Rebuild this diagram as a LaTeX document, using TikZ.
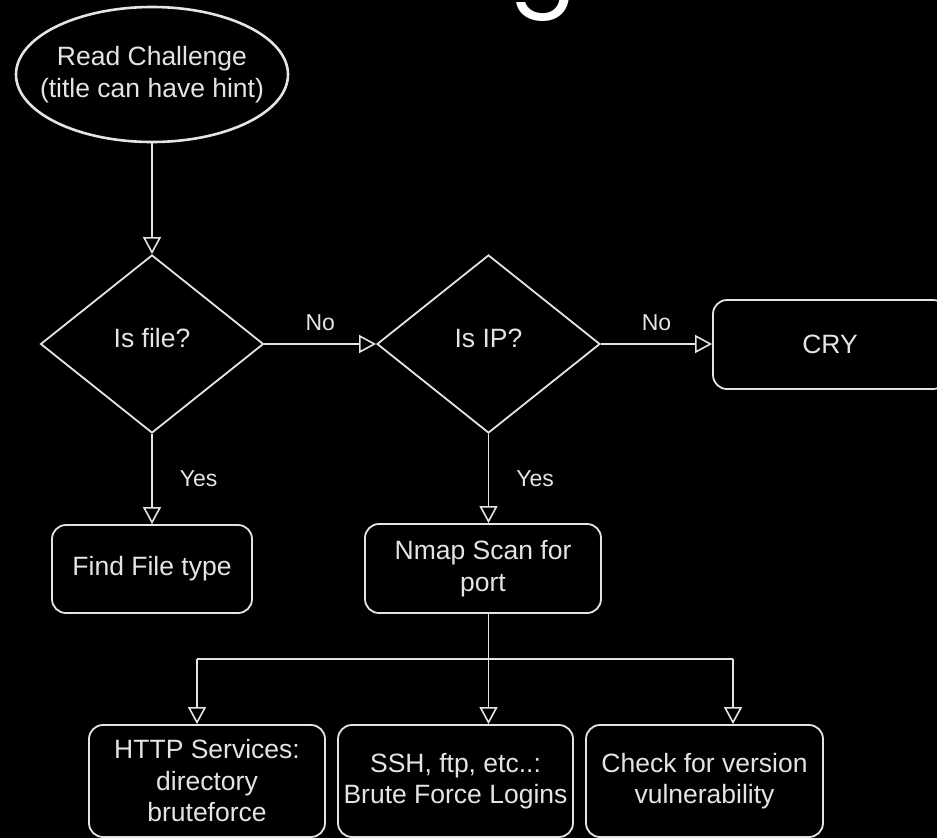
\documentclass[tikz,border=0pt]{standalone}
\usepackage{fontspec}
\setmainfont{Liberation Sans}
\newfontfamily\titlefont{Poppins}
\usetikzlibrary{shapes.geometric,arrows.meta}
\definecolor{fg}{RGB}{228,228,228}
\begin{document}
\begin{tikzpicture}[x=1pt,y=-1pt,
  every node/.style={text=fg, inner sep=0pt, align=center, font=\fontsize{26.5}{31.5}\selectfont},
  shp/.style={draw=fg, line width=1.8pt, fill=black},
  rbox/.style={shp, rectangle, rounded corners=14pt},
  dia/.style={shp, diamond, minimum width=223pt, minimum height=178pt},
  conn/.style={draw=fg, line width=1.6pt},
  arr/.style={conn, -{Triangle[open, length=17pt, width=18pt, line width=1.6pt]}},
  lbl/.style={font=\fontsize{23}{27}\selectfont}
]
\useasboundingbox (0,0) rectangle (937,838);
\fill[black] (0,0) rectangle (937,838);
\begin{scope}
\clip (0,0) rectangle (937,838);
\node[anchor=base, text=white, font=\titlefont\fontsize{100}{100}\selectfont] (ttl) at (543,-6) {g};

\node[shp, ellipse, line width=2.6pt, inner xsep=-30pt, minimum width=272pt, minimum height=135pt] (start) at (152,74.5) {Read Challenge\\(title can have hint)};
\node[dia, text depth=12pt] (file) at (152,344) {Is file?};
\node[dia, text depth=12pt] (ip) at (488.5,344) {Is IP?};
\node[rbox, minimum width=234pt, minimum height=89pt] (cry) at (830,344.5) {CRY};
\node[rbox, minimum width=200pt, minimum height=88pt] (find) at (152,569) {Find File type};
\node[rbox, minimum width=236pt, minimum height=89pt] (nmap) at (483,568.5) {Nmap Scan for\\port};
\node[rbox, minimum width=236pt, minimum height=112pt] (http) at (207,781) {HTTP Services:\\directory\\bruteforce};
\node[rbox, minimum width=235pt, minimum height=112pt] (ssh) at (455.5,781) {SSH, ftp, etc..:\\Brute Force Logins};
\node[rbox, minimum width=237pt, minimum height=112pt] (check) at (704.5,781) {Check for version\\vulnerability};

\coordinate (busL) at (197,659);
\coordinate (busR) at (733,659);

\draw[arr] (start.south) -- (file.north);
\draw[arr] (file.east) -- node[lbl, above=12pt] (no1) {No} (ip.west);
\draw[arr] (ip.east) -- node[lbl, above=12pt] (no2) {No} (cry.west |- ip.east);
\draw[arr] (file.south) -- node[lbl, right=27pt] (yes1) {Yes} (find.north);
\draw[arr] (ip.south) -- node[lbl, right=27pt] (yes2) {Yes} (ip.south |- nmap.north);
\draw[arr] (ip.south |- nmap.south) -- (ip.south |- ssh.north);
\draw[conn] (busL) -- (busR);
\draw[arr] (busL) -- (busL |- http.north);
\draw[arr] (busR) -- (busR |- check.north);
\end{scope}
\end{tikzpicture}
\end{document}
